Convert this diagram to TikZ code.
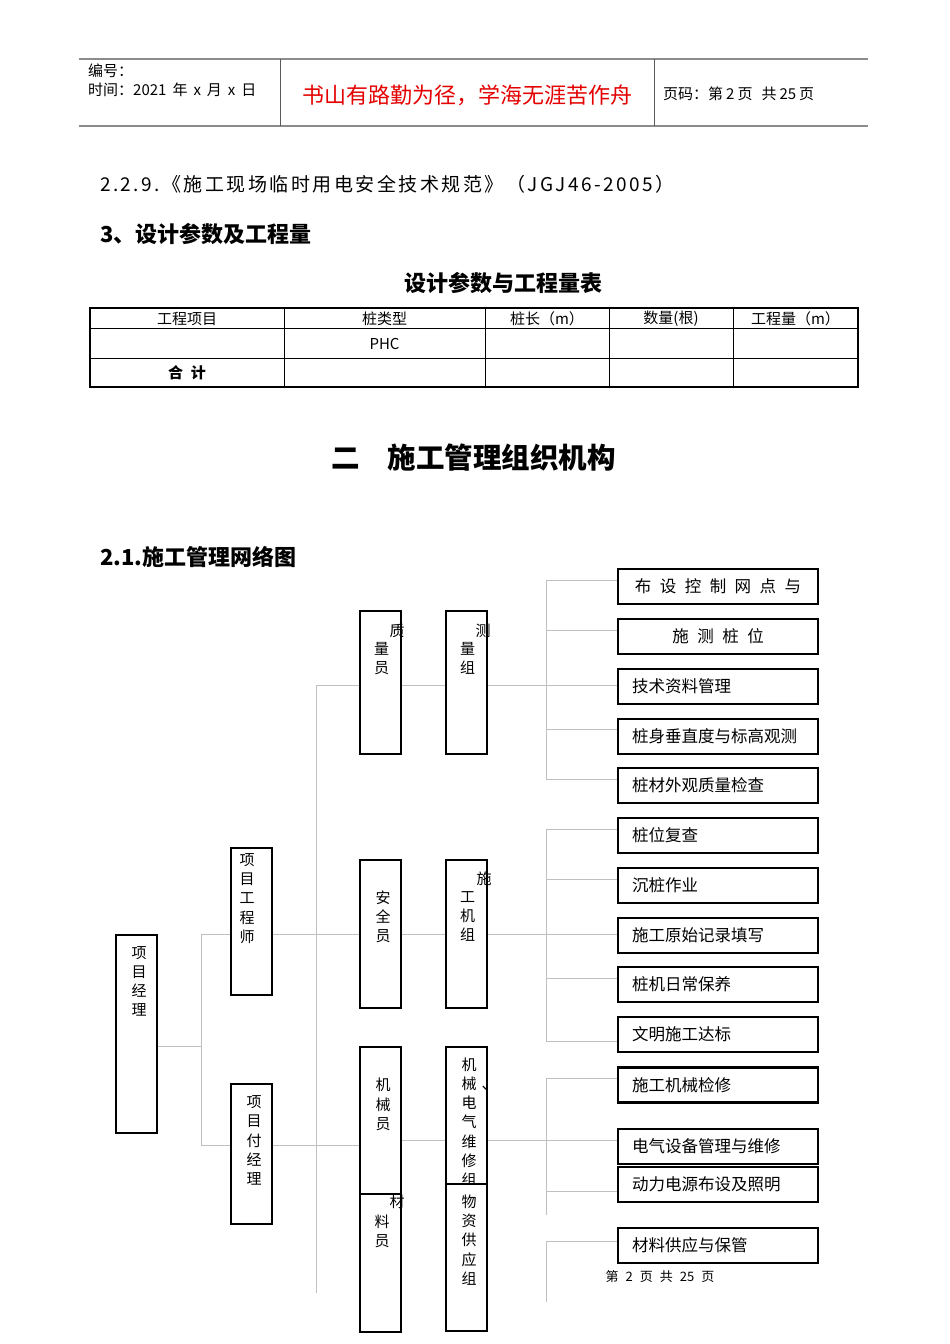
\documentclass[tikz,border=0pt]{standalone}
\usepackage{fontspec}
\setmainfont{Noto Sans CJK SC}
\usetikzlibrary{calc}
\definecolor{hdrgray}{RGB}{140,140,140}
\definecolor{hdrdark}{RGB}{90,90,90}
\definecolor{conngray}{RGB}{192,192,192}
\definecolor{redtxt}{RGB}{228,0,0}
\newcommand{\fsz}[2]{\fontsize{#1}{#2}\selectfont}
\newcommand{\gp}{\hspace{8.5pt}}
\newcommand{\hg}{\hspace{6pt}}
\begin{document}
\begin{tikzpicture}[x=1pt,y=-1pt,
  conn/.style={draw=conngray,line width=1pt},
  vb/.style={draw=black,line width=2.4pt,fill=white,minimum width=41pt,inner sep=0pt},
  hb/.style={draw=black,line width=2.4pt,fill=white,minimum width=200pt,minimum height=35pt,
             inner xsep=14pt,inner ysep=0pt,text width=172pt,align=left,font=\fsz{16.5}{18}},
  hbc/.style={hb,align=center},
  vt/.style={inner sep=0pt,align=center,font=\fsz{15}{19.2}},
  txt/.style={inner sep=0pt,anchor=west},
]
\useasboundingbox (0,0) rectangle (950,1344);
\fill[white] (0,0) rectangle (950,1344);

% ---------- header ----------
\draw[hdrgray,line width=1.6pt] (79,59) -- (868,59);
\draw[hdrgray,line width=1.6pt] (79,126) -- (868,126);
\draw[hdrdark,line width=0.9pt] (280,59) -- (280,126);
\draw[hdrdark,line width=0.9pt] (654,59) -- (654,126);
\node[txt,font=\fsz{15}{18}] (hno) at (88,71) {编号：};
\node[txt,font=\fsz{15}{18}] (htime) at (88,90) {时间：2021\hg{}年\hg{}x\hg{}月\hg{}x\hg{}日};
\node[inner sep=0pt,font=\fsz{22}{26},text=redtxt] (hmotto) at (467,95) {书山有路勤为径，学海无涯苦作舟};
\node[txt,font=\fsz{15}{18}] (hpage) at (663,94) {页码：第\hspace{3pt}2\hspace{3pt}页\hspace{9pt}共\hspace{3pt}25\hspace{3pt}页};

% ---------- text ----------
\node[txt,font=\fsz{19}{22}\addfontfeature{LetterSpace=13}] (ref229) at (100,184) {2.2.9.《施工现场临时用电安全技术规范》（JGJ46-2005）};
\node[txt,font=\bfseries\fsz{22}{25}] (sec3) at (100,234) {3、设计参数及工程量};
\node[inner sep=0pt,font=\bfseries\fsz{22}{26}] (tabtitle) at (503,283) {设计参数与工程量表};

% ---------- table ----------
\draw[line width=1pt] (90,328) -- (858,328);
\draw[line width=1pt] (90,358) -- (858,358);
\foreach \cx in {284,485,609,733} \draw[line width=1pt] (\cx,308) -- (\cx,387);
\draw[line width=2.5pt] (90,308) rectangle (858,387);
\begin{scope}[every node/.style={inner sep=0pt,font=\fsz{15}{18}}]
\node (th1) at (187,319) {工程项目};
\node (th2) at (384.5,319) {桩类型};
\node (th3) at (547,319) {桩长（m）};
\node (th4) at (671,319) {数量(根)};
\node (th5) at (795.5,319) {工程量（m）};
\node (tphc) at (384.5,344) {PHC};
\node[font=\bfseries\fsz{15}{18}] (tsum) at (187,373) {合\hspace{8pt}计};
\end{scope}

% ---------- titles ----------
\node[txt,font=\bfseries\fsz{28.5}{32}] (title2) at (331,458) {二\hspace{28pt}施工管理组织机构};
\node[txt,font=\bfseries\fsz{22}{25}] (sec21) at (100,557) {2.1.施工管理网络图};

% ---------- org chart boxes ----------
\node[vb,minimum height=198pt] (pm) at (136.5,1034) {};
\node[vt] (tpm) at (139,981.5) {项\\目\\经\\理};
\node[vb,minimum height=147pt] (pe) at (251.5,921.5) {};
\node[vt] (tpe) at (247,898.5) {项\\目\\工\\程\\师};
\node[vb,minimum height=140pt] (dpm) at (251.5,1154) {};
\node[vt] (tdpm) at (254,1140.5) {项\\目\\付\\经\\理};

\node[vb,minimum height=143pt] (qc) at (380.5,682.5) {};
\node[vt] (tqc1) at (397,631) {质};
\node[vt] (tqc2) at (381.5,658.5) {量\\员};
\node[vb,minimum height=143pt] (sv) at (466.5,682.5) {};
\node[vt] (tsv1) at (483,631) {测};
\node[vt] (tsv2) at (467.5,658.5) {量\\组};

\node[vb,minimum height=148pt] (sf) at (380.5,934) {};
\node[vt] (tsf) at (383,917) {安\\全\\员};
\node[vb,minimum height=148pt] (cm) at (466.5,934) {};
\node[vt] (tcm1) at (484,879) {施};
\node[vt] (tcm2) at (467.5,916.5) {工\\机\\组};

\node[vb,minimum height=147pt] (me) at (380.5,1120.5) {};
\node[vt] (tme) at (383,1104.5) {机\\械\\员};
\node[vb,minimum height=138pt] (mt) at (380.5,1263) {};
\node[vt] (tmt1) at (397,1202) {材};
\node[vt] (tmt2) at (382,1231) {料\\员};

\node[vb,minimum height=137pt] (em) at (466.5,1115.5) {};
\node[vt] (tem) at (469,1122) {机\\械\\电\\气\\维\\修\\组};
\node[vt] (temc) at (489,1088) {、};
\node[vb,minimum height=147pt] (sp) at (466.5,1257.5) {};
\node[vt] (tsp) at (469,1240) {物\\资\\供\\应\\组};

% ---------- task boxes ----------
\node[hbc] (r1) at (718,586.5) {布\gp{}设\gp{}控\gp{}制\gp{}网\gp{}点\gp{}与};
\node[hbc] (r2) at (718,636.5) {施\gp{}测\gp{}桩\gp{}位};
\node[hb] (r3) at (718,686.5) {技术资料管理};
\node[hb] (r4) at (718,736.5) {桩身垂直度与标高观测};
\node[hb] (r5) at (718,785.5) {桩材外观质量检查};
\node[hb] (r6) at (718,835.5) {桩位复查};
\node[hb] (r7) at (718,885.5) {沉桩作业};
\node[hb] (r8) at (718,935.5) {施工原始记录填写};
\node[hb] (r9) at (718,984.5) {桩机日常保养};
\node[hb] (r10) at (718,1034.5) {文明施工达标};
\node[hb] (r11) at (718,1085) {施工机械检修};
\node[hb] (r12) at (718,1146.5) {电气设备管理与维修};
\node[hb] (r13) at (718,1184.5) {动力电源布设及照明};
\node[hb] (r14) at (718,1245.5) {材料供应与保管};

\node[inner sep=0pt,font=\fsz{13}{15}] (footer) at (660,1277) {第\hspace{7pt}2\hspace{7pt}页\hspace{7pt}共\hspace{7pt}25\hspace{7pt}页};

% ---------- connectors ----------
\coordinate (ja) at (201,1046);
\coordinate (jpe) at (201,934);
\coordinate (jdpm) at (201,1145);
\coordinate (kt) at (316,685);
\coordinate (kb) at (316,1293);
\draw[conn] (pm.east |- ja) -- (ja);
\draw[conn] (jpe) -- (jdpm);
\draw[conn] (jpe) -- (pe.west |- jpe);
\draw[conn] (jdpm) -- (dpm.west |- jdpm);
\draw[conn] (kt) -- (kb);
\draw[conn] (kt) -- (qc.west |- kt);
\draw[conn] (pe.east |- jpe) -- (sf.west |- jpe);
\draw[conn] (dpm.east |- jdpm) -- (me.west |- jdpm);

% upper group
\coordinate (u1) at (546,580);
\coordinate (u2) at (546,630);
\coordinate (u4) at (546,729);
\coordinate (u5) at (546,779);
\draw[conn] (qc.east |- kt) -- (sv.west |- kt);
\draw[conn] (sv.east |- kt) -- (r3.west |- kt);
\draw[conn] (u1) -- (u5);
\draw[conn] (u1) -- (r1.west |- u1);
\draw[conn] (u2) -- (r2.west |- u2);
\draw[conn] (u4) -- (r4.west |- u4);
\draw[conn] (u5) -- (r5.west |- u5);

% middle group
\coordinate (m1) at (546,829);
\coordinate (m2) at (546,879);
\coordinate (m4) at (546,978);
\coordinate (m5) at (546,1041);
\draw[conn] (sf.east |- jpe) -- (cm.west |- jpe);
\draw[conn] (cm.east |- jpe) -- (r8.west |- jpe);
\draw[conn] (m1) -- (m5);
\draw[conn] (m1) -- (r6.west |- m1);
\draw[conn] (m2) -- (r7.west |- m2);
\draw[conn] (m4) -- (r9.west |- m4);
\draw[conn] (m5) -- (r10.west |- m5);

% lower group
\coordinate (l1) at (546,1078);
\coordinate (l2) at (546,1140);
\coordinate (l3) at (546,1191);
\coordinate (l4) at (546,1215);
\draw[conn] (me.east |- l2) -- (em.west |- l2);
\draw[conn] (em.east |- l2) -- (r12.west |- l2);
\draw[conn] (l1) -- (l4);
\draw[conn] (l1) -- (r11.west |- l1);
\draw[conn] (l3) -- (r13.west |- l3);

% material group
\coordinate (s1) at (546,1241);
\coordinate (s2) at (546,1302);
\draw[conn] (s1) -- (s2);
\draw[conn] (s1) -- (r14.west |- s1);
\end{tikzpicture}
\end{document}
